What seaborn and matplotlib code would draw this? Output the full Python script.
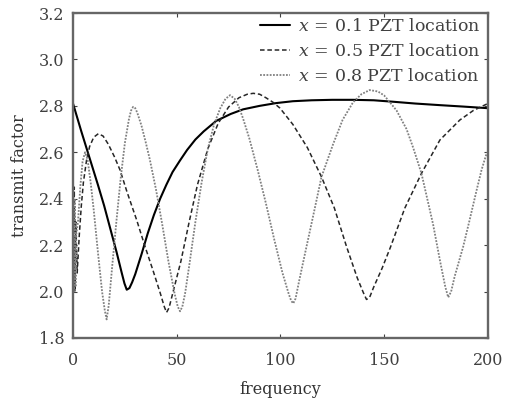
import matplotlib
matplotlib.use("Agg")
import matplotlib.pyplot as plt
import seaborn as sns
import pandas as pd

# ---- data ----
freq_01 = [0, 4, 8, 12, 15, 18, 21, 23.5, 24.8, 25.9, 27.2, 28.5, 30, 33, 36, 39, 42,
           45, 48, 51.6, 55, 59, 63, 69, 76, 82, 90, 98, 106, 115, 125, 135, 145,
           154, 165, 177, 188, 200]
tf_01 = [2.81, 2.69, 2.575, 2.46, 2.37, 2.27, 2.17, 2.08, 2.035, 2.008, 2.015, 2.04,
         2.075, 2.16, 2.25, 2.33, 2.40, 2.46, 2.515, 2.565, 2.61, 2.655, 2.69, 2.735,
         2.765, 2.785, 2.80, 2.812, 2.82, 2.824, 2.826, 2.826, 2.824, 2.818, 2.81,
         2.803, 2.797, 2.79]

freq_05 = [0, 0.3, 0.6, 0.9, 1.3, 2, 3, 4, 5, 6.5, 8, 10, 12.2, 14.5, 17, 20, 22.7,
           26, 30.7, 34.5, 38.6, 42, 44, 45.1, 46.3, 48, 52, 56, 60, 65, 70, 75, 80,
           84, 86.9, 90, 93, 96.5, 99.8, 106, 113, 119.8, 126, 131.9, 137, 140,
           141.5, 143, 145, 149, 153, 160, 168, 176.9, 186.5, 193, 200]
tf_05 = [2.55, 2.02, 2.45, 2.0, 2.3, 2.08, 2.24, 2.37, 2.47, 2.565, 2.625, 2.665,
         2.68, 2.67, 2.635, 2.58, 2.523, 2.43, 2.308, 2.2, 2.09, 1.995, 1.935, 1.91,
         1.93, 1.99, 2.13, 2.30, 2.46, 2.615, 2.725, 2.795, 2.835, 2.85, 2.854,
         2.85, 2.835, 2.815, 2.79, 2.72, 2.62, 2.494, 2.36, 2.193, 2.06, 1.995,
         1.966, 1.975, 2.02, 2.10, 2.19, 2.36, 2.509, 2.653, 2.739, 2.78, 2.81]

freq_08 = [0, 0.4, 0.8, 1.2, 1.6, 2.4, 3.5, 4.6, 5.8, 7, 8.5, 10, 12, 14, 15.3, 16.2,
           17.2, 19, 21, 23, 25, 27, 28, 29, 30, 31, 33, 35, 37, 40, 43, 46, 49,
           50.5, 51.6, 52.7, 54, 56, 59, 62, 65, 68, 71, 73.5, 75.7, 78, 80, 82, 85,
           89, 93, 97, 101, 104, 105.2, 106.2, 107.3, 109, 112, 116, 119.8, 125.4,
           130, 135, 139, 143, 147, 150, 152.8, 156, 160.8, 164, 168, 173.6, 177,
           179.5, 180.9, 182.3, 184, 188.1, 191, 194.6, 197, 199.4, 200]
tf_08 = [2.45, 2.0, 2.4, 2.02, 2.25, 2.3, 2.45, 2.56, 2.6, 2.57, 2.47, 2.35, 2.17,
         2.0, 1.92, 1.88, 1.94, 2.12, 2.31, 2.49, 2.64, 2.745, 2.78, 2.796, 2.79,
         2.77, 2.715, 2.645, 2.57, 2.44, 2.29, 2.13, 1.99, 1.935, 1.915, 1.935,
         1.99, 2.11, 2.30, 2.47, 2.615, 2.72, 2.79, 2.83, 2.846, 2.83, 2.795, 2.745,
         2.66, 2.525, 2.38, 2.225, 2.08, 1.99, 1.96, 1.949, 1.97, 2.045, 2.17,
         2.335, 2.494, 2.635, 2.74, 2.815, 2.85, 2.868, 2.862, 2.845, 2.815, 2.78,
         2.70, 2.62, 2.509, 2.29, 2.13, 2.02, 1.975, 2.0, 2.065, 2.193, 2.30,
         2.437, 2.525, 2.595, 2.60]

labels = [r"$x\,=\,$0.1 PZT location", r"$x\,=\,$0.5 PZT location",
          r"$x\,=\,$0.8 PZT location"]
xticks = [0, 50, 100, 150, 200]
yticks = [1.8, 2.0, 2.2, 2.4, 2.6, 2.8, 3.0, 3.2]

# ---- style ----
sns.set_style("ticks")
plt.rcParams["font.family"] = ["DejaVu Serif"]
plt.rcParams["mathtext.fontset"] = "dejavuserif"

fig = plt.figure(figsize=(5.05, 4.0), dpi=100)
ax = fig.add_axes([0.1446, 0.155, 0.8214, 0.8125])

series = [
    (freq_01, tf_01, labels[0], "black", "-", 1.5),
    (freq_05, tf_05, labels[1], "0.15", (0, (3.0, 1.8)), 1.1),
    (freq_08, tf_08, labels[2], "0.5", (0, (1.0, 0.8)), 1.3),
]
for fx, fy, lab, col, ls, lw in series:
    df = pd.DataFrame({"frequency": fx, "tf": fy})
    sns.lineplot(data=df, x="frequency", y="tf", ax=ax, label=lab, color=col,
                 linestyle=ls, linewidth=lw, sort=False, estimator=None)

ax.set_xlim(0, 200)
ax.set_ylim(1.8, 3.2)
ax.set_xticks(xticks)
ax.set_yticks(yticks)
ax.set_xticklabels([str(t) for t in xticks])
ax.set_yticklabels([f"{t:.1f}" for t in yticks])
ax.tick_params(direction="in", top=True, right=True, length=3, width=0.8,
               labelsize=11.5, colors="0.25")
ax.tick_params(axis="x", pad=10)
ax.tick_params(axis="y", pad=6)
for sp in ax.spines.values():
    sp.set_linewidth(1.7)
    sp.set_color("0.4")

ax.set_xlabel("frequency", fontsize=11.5, color="0.2", labelpad=9)
ax.set_ylabel("transmit factor", fontsize=11.5, color="0.2", labelpad=8)

leg = ax.legend(loc="upper right", bbox_to_anchor=(1.012, 1.022), frameon=False,
                fontsize=12.5, handlelength=1.7, handletextpad=0.5,
                labelspacing=0.45, borderaxespad=0.3)
for t in leg.get_texts():
    t.set_color("0.25")

fig.savefig("out.png", dpi=100)
